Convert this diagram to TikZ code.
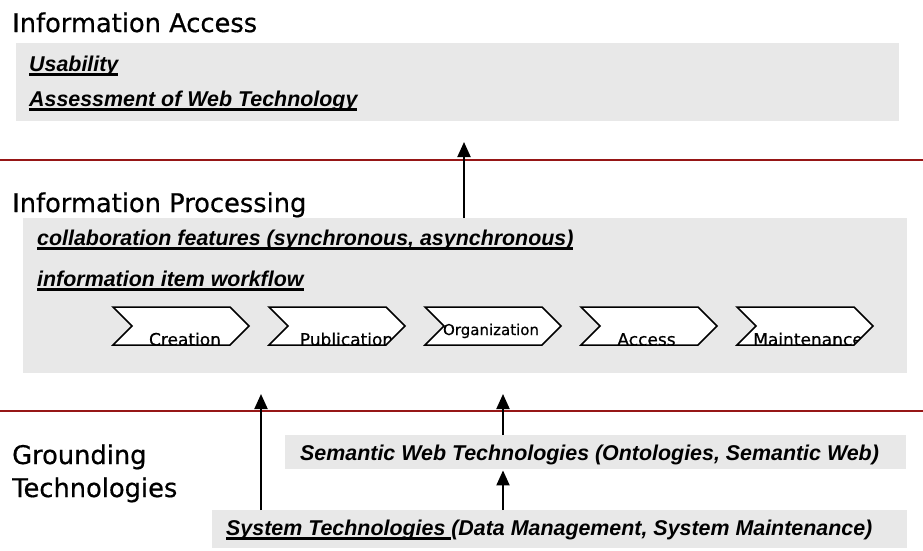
\documentclass[tikz,border=0pt]{standalone}
\usepackage{fontspec}
\setmainfont{DejaVu Sans}
\newfontfamily\titlefont{DejaVu Sans}[FakeBold=0.6]
\newfontfamily\arialfont{Liberation Sans}
\usetikzlibrary{arrows.meta,shapes.symbols,calc}
\definecolor{boxgray}{RGB}{232,232,232}
\definecolor{linered}{RGB}{150,22,22}
\newcommand\myul[1]{\setbox0\hbox{#1}\rlap{\vrule height -2pt depth 4.5pt width \wd0}\box0}
\begin{document}
\begin{tikzpicture}[x=1pt,y=-1pt,
  title/.style={font=\titlefont\fontsize{25.7}{30}\selectfont, anchor=base west, inner sep=0pt},
  item/.style={font=\arialfont\bfseries\itshape\fontsize{21.4}{25}\selectfont, anchor=base west, inner sep=0pt},
  graybox/.style={fill=boxgray, draw=none, inner sep=0pt, anchor=north west},
  sep/.style={draw=linered, line width=2pt},
  up/.style={-{Triangle[length=15pt,width=13pt]}, line width=2pt},
  chev/.style={shape=signal, signal to=east, signal from=west, signal pointer angle=90,
    draw=black, line width=1.5pt, fill=white, minimum width=136pt, minimum height=38pt, inner sep=0pt},
  ctext/.style n args={4}{path picture={\node[font=\titlefont\fontsize{#4}{#4}\selectfont, anchor=base, inner sep=0pt]
      at ($(path picture bounding box.south)+(#1,#2)$) {#3};}},
]
\useasboundingbox (0,0) rectangle (923,550);

% gray boxes
\node[graybox, minimum width=883pt, minimum height=78pt] (iabox) at (16,43) {};
\node[graybox, minimum width=884pt, minimum height=155pt] (ipbox) at (23,218) {};
\node[graybox, minimum width=621pt, minimum height=34pt] (swbox) at (285,435) {};
\node[graybox, minimum width=695pt, minimum height=38pt] (stbox) at (212,510) {};

% separators
\draw[sep] (0,160) -- (923,160);
\draw[sep] (0,410.5) -- (923,410.5);

% titles
\node[title] (tia) at (12,32) {Information Access};
\node[title] (tip) at (12,212) {Information Processing};
\node[title] (tg1) at (12,464) {Grounding};
\node[title] (tg2) at (12,497) {Technologies};

% items
\node[item] (usab) at (29,71) {\myul{Usability}};
\node[item] (assess) at (29,106) {\myul{Assessment of Web Technology}};
\node[item] (collab) at (37,245) {\myul{collaboration features (synchronous, asynchronous)}};
\node[item] (wflow) at (37,286) {\myul{information item workflow}};
\node[item] (swtext) at (300,460) {Semantic Web Technologies (Ontologies, Semantic Web)};
\node[item] (sttext) at (226,535) {\myul{System Technologies }(Data Management, System Maintenance)};

% chevrons
\node[chev, ctext={4}{0.5}{Creation}{17}] (c1) at (181,326) {};
\node[chev, ctext={9.5}{0.5}{Publication}{17}] (c2) at (337,326) {};
\node[chev, ctext={-2}{-10}{Organization}{15}] (c3) at (493,326) {};
\node[chev, ctext={-2.5}{0.5}{Access}{17}] (c4) at (649,326) {};
\node[chev, ctext={3}{0.5}{Maintenance}{17}] (c5) at (805,326) {};

% arrows
\coordinate (t1) at (464,142);
\coordinate (t2) at (261,394);
\coordinate (t3) at (503,394);
\draw[up] (ipbox.north -| t1) -- (t1);
\draw[up] (stbox.north -| t2) -- (t2);
\draw[up] (swbox.north -| t3) -- (t3);
\draw[up] (stbox.north -| t3) -- ([yshift=-1pt]swbox.south -| t3);
\end{tikzpicture}
\end{document}
